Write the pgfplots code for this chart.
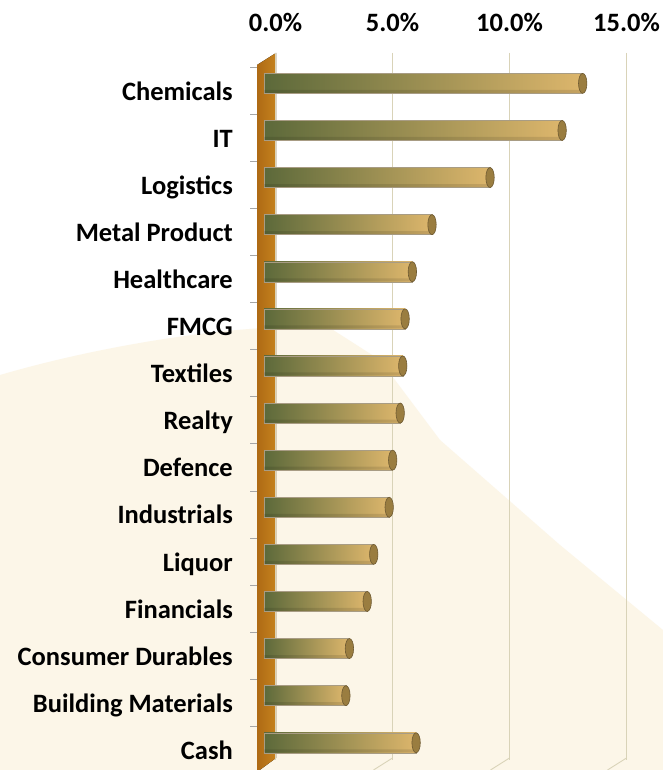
\documentclass[border=0pt]{standalone}
\usepackage{fontspec}
\setmainfont{Carlito}
\usepackage{pgfplots}
\pgfplotsset{compat=1.18}

\definecolor{wallL}{HTML}{AE6A14}
\definecolor{wallR}{HTML}{C5821E}
\definecolor{gridc}{HTML}{D9D3B8}
\definecolor{barL}{HTML}{5C693A}
\definecolor{barM}{HTML}{9E9057}
\definecolor{barR}{HTML}{DDB66C}
\definecolor{capc}{HTML}{9A7D40}
\definecolor{capedge}{HTML}{6E5A32}
\definecolor{cream}{HTML}{FCF6E8}

% sector weights (%), idx 0 = top row
\pgfplotstableread{
idx value
0  13.62
1  12.74
2  9.66
3  7.18
4  6.34
5  6.03
6  5.93
7  5.82
8  5.50
9  5.35
10 4.69
11 4.41
12 3.65
13 3.50
14 6.50
}\weights

\begin{document}
\begin{tikzpicture}
\path[use as bounding box] (0pt,0pt) rectangle (663pt,770pt);
\fill[white] (0pt,0pt) rectangle (663pt,770pt);
% faint watermark
\fill[cream] (0pt,395pt) .. controls (120pt,430pt) and (260pt,448pt) .. (330pt,442pt)
  -- (380pt,410pt) -- (440pt,330pt) -- (560pt,225pt) -- (663pt,140pt)
  -- (663pt,0pt) -- (0pt,0pt) -- cycle;

% floor grid edges
\foreach \gx in {392.5,509.5,626.5}
  \draw[gridc, line width=0.9pt] (\gx pt,12pt) -- (\gx pt-19pt,0pt);

% side wall
\fill[left color=wallL, right color=wallR] (276pt,717pt) -- (257pt,705pt) -- (257pt,-2pt) -- (276pt,12pt) -- cycle;
\foreach \k in {0,...,14}
  \draw[gray!70, line width=0.6pt] (250pt,{703pt-47.1pt*\k}) -- (257pt,{703pt-47.1pt*\k});

\begin{axis}[
    at={(275.5pt,717pt)}, anchor=north west,
    scale only axis, width=351pt, height=706.5pt,
    xmin=0, xmax=15, ymin=-0.5, ymax=14.5,
    y dir=reverse,
    clip=false,
    axis line style={draw=none},
    major tick length=0pt,
    xtick={0,5,10,15},
    xticklabels={0.0\%,5.0\%,10.0\%,15.0\%},
    xticklabel pos=upper,
    xmajorgrids,
    grid style={gridc, line width=0.9pt},
    ytick={0,...,14},
    yticklabels={Chemicals,IT,Logistics,Metal Product,Healthcare,FMCG,Textiles,Realty,Defence,Industrials,Liquor,Financials,Consumer Durables,Building Materials,Cash},
    tick label style={font=\fontsize{26.5}{30}\selectfont\bfseries, inner sep=0pt},
    xticklabel style={anchor=base, yshift=21.5pt},
    yticklabel style={anchor=base east, xshift=-42.5pt, yshift=-23.5pt},
    unbounded coords=discard,
]
% cylinder bodies, one plot per bar so each gets its own green-to-tan shading
\pgfplotsinvokeforeach{0,...,14}{
  \addplot[xbar, bar width=20pt, draw=capedge!60, line width=0.5pt,
    left color=barL, middle color=barM, right color=barR,
    xshift=-11.5pt, yshift=-6.8pt,
    y filter/.expression={\coordindex==#1 ? y : nan}]
    table[x=value, y=idx] {\weights};
}
% darker lower edge of the cylinders
\addplot[xbar, bar width=3pt, draw=none, fill=black, fill opacity=0.10,
  xshift=-11.5pt, yshift=-14.8pt] table[x=value, y=idx] {\weights};
% end caps
\addplot[only marks, mark=*, mark size=10pt,
  mark options={xscale=0.42, fill=capc, draw=capedge, line width=0.6pt},
  xshift=-11.5pt, yshift=-6.8pt] table[x=value, y=idx] {\weights};
\end{axis}
\end{tikzpicture}
\end{document}
